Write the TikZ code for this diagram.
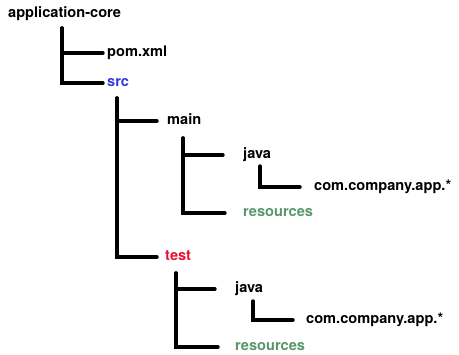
\documentclass[tikz,border=0pt]{standalone}
\usepackage{fontspec}
\setmainfont{TeX Gyre Heros}
\usepackage{xcolor}
\definecolor{srcblue}{RGB}{55,55,225}
\definecolor{testred}{RGB}{228,18,52}
\definecolor{resgreen}{RGB}{88,150,108}

\begin{document}
\begin{tikzpicture}[x=1pt, y=-1pt,
    item/.style={anchor=west, inner sep=2pt, font=\fontsize{14.6}{16}\selectfont\bfseries, text height=10pt, text depth=3pt},
    branch/.style={line width=3.4pt, line cap=round, line join=miter}]
  \useasboundingbox (0,0) rectangle (459,355);
  % folders and files
  \node [item] (core) at (6,14) {application-core};
  \node [item] (pom) at (105,53) {pom.xml};
  \node [item, text=srcblue] (src) at (105,83) {src};
  \node [item] (main) at (165,121) {main};
  \node [item] (java1) at (241,155) {java};
  \node [item] (app1) at (312,187) {com.company.app.*};
  \node [item, text=resgreen] (res1) at (241,213) {resources};
  \node [item, text=testred] (test) at (163,257) {test};
  \node [item] (java2) at (233,289) {java};
  \node [item] (app2) at (304,320) {com.company.app.*};
  \node [item, text=resgreen] (res2) at (233,347) {resources};
  % stems
  \coordinate (s0) at (62,28);
  \coordinate (s1) at (117,98);
  \coordinate (s2) at (183,138);
  \coordinate (s3) at (260,166);
  \coordinate (s4) at (176,273);
  \coordinate (s5) at (253,301);
  \draw [branch, shorten >=2pt] (s0) |- (pom.west);
  \draw [branch, shorten >=2pt] (s0) |- (src.west);
  \draw [branch, shorten >=8pt] (s1) |- (main.west);
  \draw [branch, shorten >=6pt] (s1) |- (test.west);
  \draw [branch, shorten >=18pt] (s2) |- (java1.west);
  \draw [branch, shorten >=16pt] (s2) |- (res1.west);
  \draw [branch, shorten >=12pt] (s3) |- (app1.west);
  \draw [branch, shorten >=18pt] (s4) |- (java2.west);
  \draw [branch, shorten >=15pt] (s4) |- (res2.west);
  \draw [branch, shorten >=11pt] (s5) |- (app2.west);
\end{tikzpicture}
\end{document}
